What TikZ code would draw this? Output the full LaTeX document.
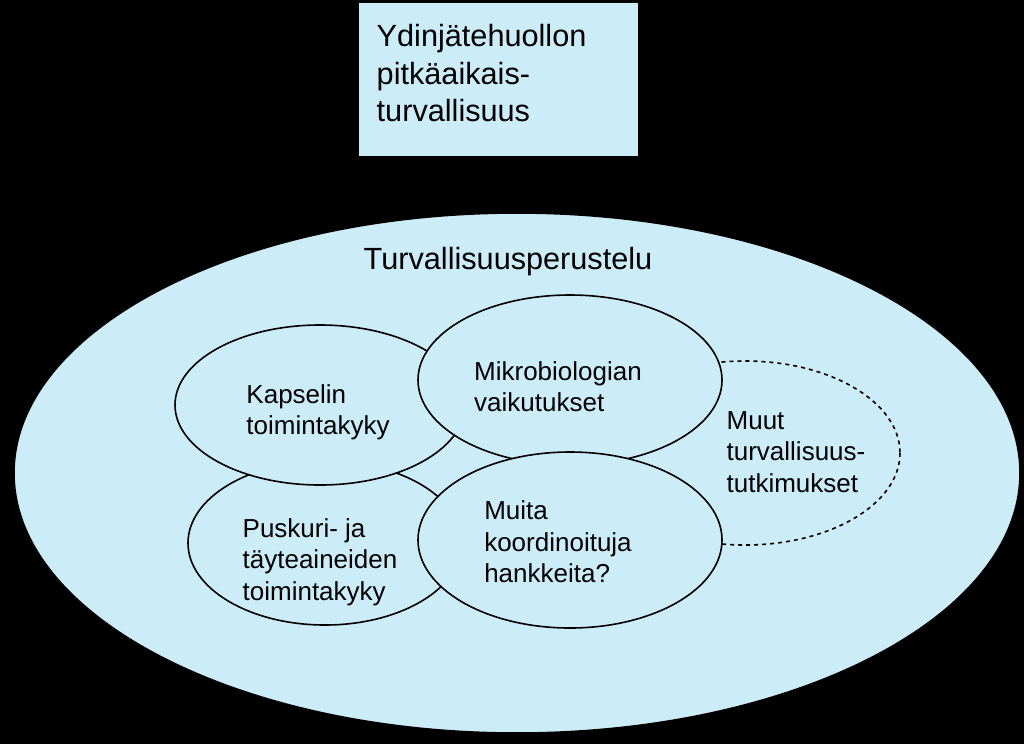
\documentclass[tikz,border=0pt]{standalone}
\usepackage{fontspec}
\setmainfont{Liberation Sans}
\definecolor{lb}{HTML}{CCECF8}
\begin{document}
\begin{tikzpicture}[x=0.75pt,y=-0.75pt,
  blob/.style={draw=black,line width=1.2pt,fill=lb},
  lbl/.style={align=left,font=\fontsize{19.5}{23.5}\selectfont}]
\fill[black] (0,0) rectangle (1024,744);
\useasboundingbox (0,0) rectangle (1024,744);
\draw[fill=lb,draw=black] (358,2) rectangle (638,156);
\node[align=left,anchor=north west,font=\fontsize{23}{28}\selectfont] (toptxt) at (372,20) {Ydinjätehuollon\\pitkäaikais-\\turvallisuus};
\draw[blob] (517,473) ellipse (503 and 260);
\node[font=\fontsize{23}{27}\selectfont] (title) at (508,262) {Turvallisuusperustelu};
\draw[line width=1.2pt,dashed] (745,453) ellipse (155 and 92);
\draw[blob] (325,543) ellipse (137 and 82);
\draw[blob] (320,405) ellipse (145 and 80);
\draw[blob] (570,380) ellipse (152 and 85);
\draw[blob] (570,540) ellipse (152 and 88);
\node[lbl] (k) at (318,412) {Kapselin\\toimintakyky};
\node[lbl] (p) at (320,562) {Puskuri- ja\\täyteaineiden\\toimintakyky};
\node[lbl] (m) at (558,387) {Mikrobiologian\\vaikutukset};
\node[lbl] (h) at (558,542) {Muita\\koordinoituja\\hankkeita?};
\node[lbl] (o) at (796,452) {Muut\\turvallisuus-\\tutkimukset};
\end{tikzpicture}
\end{document}
